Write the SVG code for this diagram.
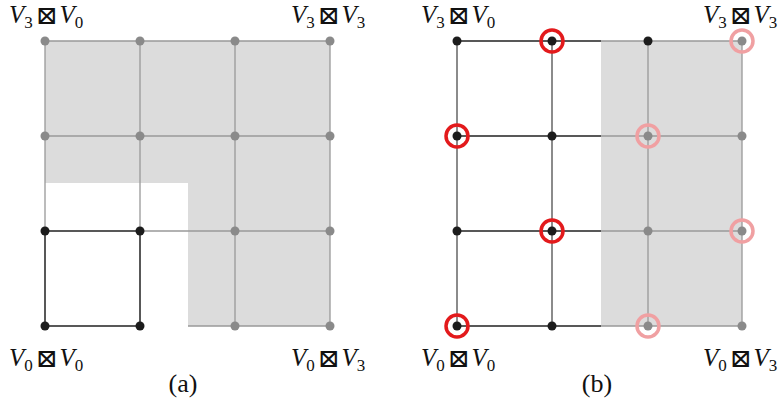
<svg xmlns="http://www.w3.org/2000/svg" width="778" height="406" viewBox="0 0 778 406">
<style>
.lbl{font-family:"Liberation Serif","DejaVu Serif",serif;font-size:25px;fill:#111}
.v{font-style:italic}
.sub{font-size:17px;font-style:normal}
.op{font-family:"DejaVu Sans ExtraLight","DejaVu Sans Light","DejaVu Serif",serif;font-size:26px;font-weight:200}
.cap{font-family:"Liberation Serif","DejaVu Serif",serif;font-size:26px;fill:#111}
.gl{stroke:#999;stroke-width:1.3;fill:none}
.bl{stroke:#222;stroke-width:1.5;fill:none}
.vl{stroke:#666;stroke-width:1.5;fill:none}
.bd{fill:#1c1c1c}
.gd{fill:#8a8a8a}
.rc{fill:none;stroke:#e31a1c;stroke-width:3.5}
.pc{fill:none;stroke:#f0a0a2;stroke-width:3.5}
.shade{fill:#dcdcdc}
</style>
<g id="panel-a">
<path class="shade" d="M45,41H330V326H188V183H45Z"/>
<g id="connectors-a">
<path class="gl" d="M45,41H330M45,136H330M188,231H330M140,231H188M188,326H330M45,41V183M45,183V231M140,41V231M235,41V326M330,41V326"/>
<path class="bl" d="M45,231H140M45,326H140M45,231V326M140,231V326"/>
</g>
<g id="nodes-a">
<circle class="gd" cx="45" cy="41" r="4.5"/><circle class="gd" cx="140" cy="41" r="4.5"/><circle class="gd" cx="235" cy="41" r="4.5"/><circle class="gd" cx="330" cy="41" r="4.5"/>
<circle class="gd" cx="45" cy="136" r="4.5"/><circle class="gd" cx="140" cy="136" r="4.5"/><circle class="gd" cx="235" cy="136" r="4.5"/><circle class="gd" cx="330" cy="136" r="4.5"/>
<circle class="bd" cx="45" cy="231" r="4.5"/><circle class="bd" cx="140" cy="231" r="4.5"/><circle class="gd" cx="235" cy="231" r="4.5"/><circle class="gd" cx="330" cy="231" r="4.5"/>
<circle class="bd" cx="45" cy="326" r="4.5"/><circle class="bd" cx="140" cy="326" r="4.5"/><circle class="gd" cx="235" cy="326" r="4.5"/><circle class="gd" cx="330" cy="326" r="4.5"/>
</g>
<text class="lbl" x="9" y="23"><tspan class="v">V</tspan><tspan class="sub" dy="5">3</tspan><tspan class="op" dy="-4" dx="3">⊠</tspan><tspan class="v" dy="-1" dx="2">V</tspan><tspan class="sub" dy="5">0</tspan></text>
<text class="lbl" x="291" y="23"><tspan class="v">V</tspan><tspan class="sub" dy="5">3</tspan><tspan class="op" dy="-4" dx="3">⊠</tspan><tspan class="v" dy="-1" dx="2">V</tspan><tspan class="sub" dy="5">3</tspan></text>
<text class="lbl" x="9" y="366"><tspan class="v">V</tspan><tspan class="sub" dy="5">0</tspan><tspan class="op" dy="-4" dx="3">⊠</tspan><tspan class="v" dy="-1" dx="2">V</tspan><tspan class="sub" dy="5">0</tspan></text>
<text class="lbl" x="291" y="366"><tspan class="v">V</tspan><tspan class="sub" dy="5">0</tspan><tspan class="op" dy="-4" dx="3">⊠</tspan><tspan class="v" dy="-1" dx="2">V</tspan><tspan class="sub" dy="5">3</tspan></text>
<text class="cap" x="183" y="392" text-anchor="middle">(a)</text>
</g>
<g id="panel-b">
<rect class="shade" x="601" y="41" width="141" height="285"/>
<g id="connectors-b">
<path class="gl" d="M601,41H742M601,136H742M601,231H742M601,326H742M648,41V326M742,41V326"/>
<path class="bl" d="M457,41H601M457,136H601M457,231H601M457,326H601"/>
<path class="vl" d="M457,41V326M552,41V326"/>
</g>
<g id="nodes-b">
<circle class="bd" cx="457" cy="41" r="4.5"/><circle class="bd" cx="552" cy="41" r="4.5"/><circle class="bd" cx="648" cy="41" r="4.5"/><circle class="gd" cx="742" cy="41" r="4.5"/>
<circle class="bd" cx="457" cy="136" r="4.5"/><circle class="bd" cx="552" cy="136" r="4.5"/><circle class="gd" cx="648" cy="136" r="4.5"/><circle class="gd" cx="742" cy="136" r="4.5"/>
<circle class="bd" cx="457" cy="231" r="4.5"/><circle class="bd" cx="552" cy="231" r="4.5"/><circle class="gd" cx="648" cy="231" r="4.5"/><circle class="gd" cx="742" cy="231" r="4.5"/>
<circle class="bd" cx="457" cy="326" r="4.5"/><circle class="bd" cx="552" cy="326" r="4.5"/><circle class="gd" cx="648" cy="326" r="4.5"/><circle class="gd" cx="742" cy="326" r="4.5"/>
<circle class="rc" cx="552" cy="41" r="11"/><circle class="rc" cx="457" cy="136" r="11"/><circle class="rc" cx="552" cy="231" r="11"/><circle class="rc" cx="457" cy="326" r="11"/>
<circle class="pc" cx="742" cy="41" r="11"/><circle class="pc" cx="648" cy="136" r="11"/><circle class="pc" cx="742" cy="231" r="11"/><circle class="pc" cx="648" cy="326" r="11"/>
</g>
<text class="lbl" x="421" y="23"><tspan class="v">V</tspan><tspan class="sub" dy="5">3</tspan><tspan class="op" dy="-4" dx="3">⊠</tspan><tspan class="v" dy="-1" dx="2">V</tspan><tspan class="sub" dy="5">0</tspan></text>
<text class="lbl" x="703" y="23"><tspan class="v">V</tspan><tspan class="sub" dy="5">3</tspan><tspan class="op" dy="-4" dx="3">⊠</tspan><tspan class="v" dy="-1" dx="2">V</tspan><tspan class="sub" dy="5">3</tspan></text>
<text class="lbl" x="421" y="366"><tspan class="v">V</tspan><tspan class="sub" dy="5">0</tspan><tspan class="op" dy="-4" dx="3">⊠</tspan><tspan class="v" dy="-1" dx="2">V</tspan><tspan class="sub" dy="5">0</tspan></text>
<text class="lbl" x="703" y="366"><tspan class="v">V</tspan><tspan class="sub" dy="5">0</tspan><tspan class="op" dy="-4" dx="3">⊠</tspan><tspan class="v" dy="-1" dx="2">V</tspan><tspan class="sub" dy="5">3</tspan></text>
<text class="cap" x="597" y="392" text-anchor="middle">(b)</text>
</g>
</svg>
